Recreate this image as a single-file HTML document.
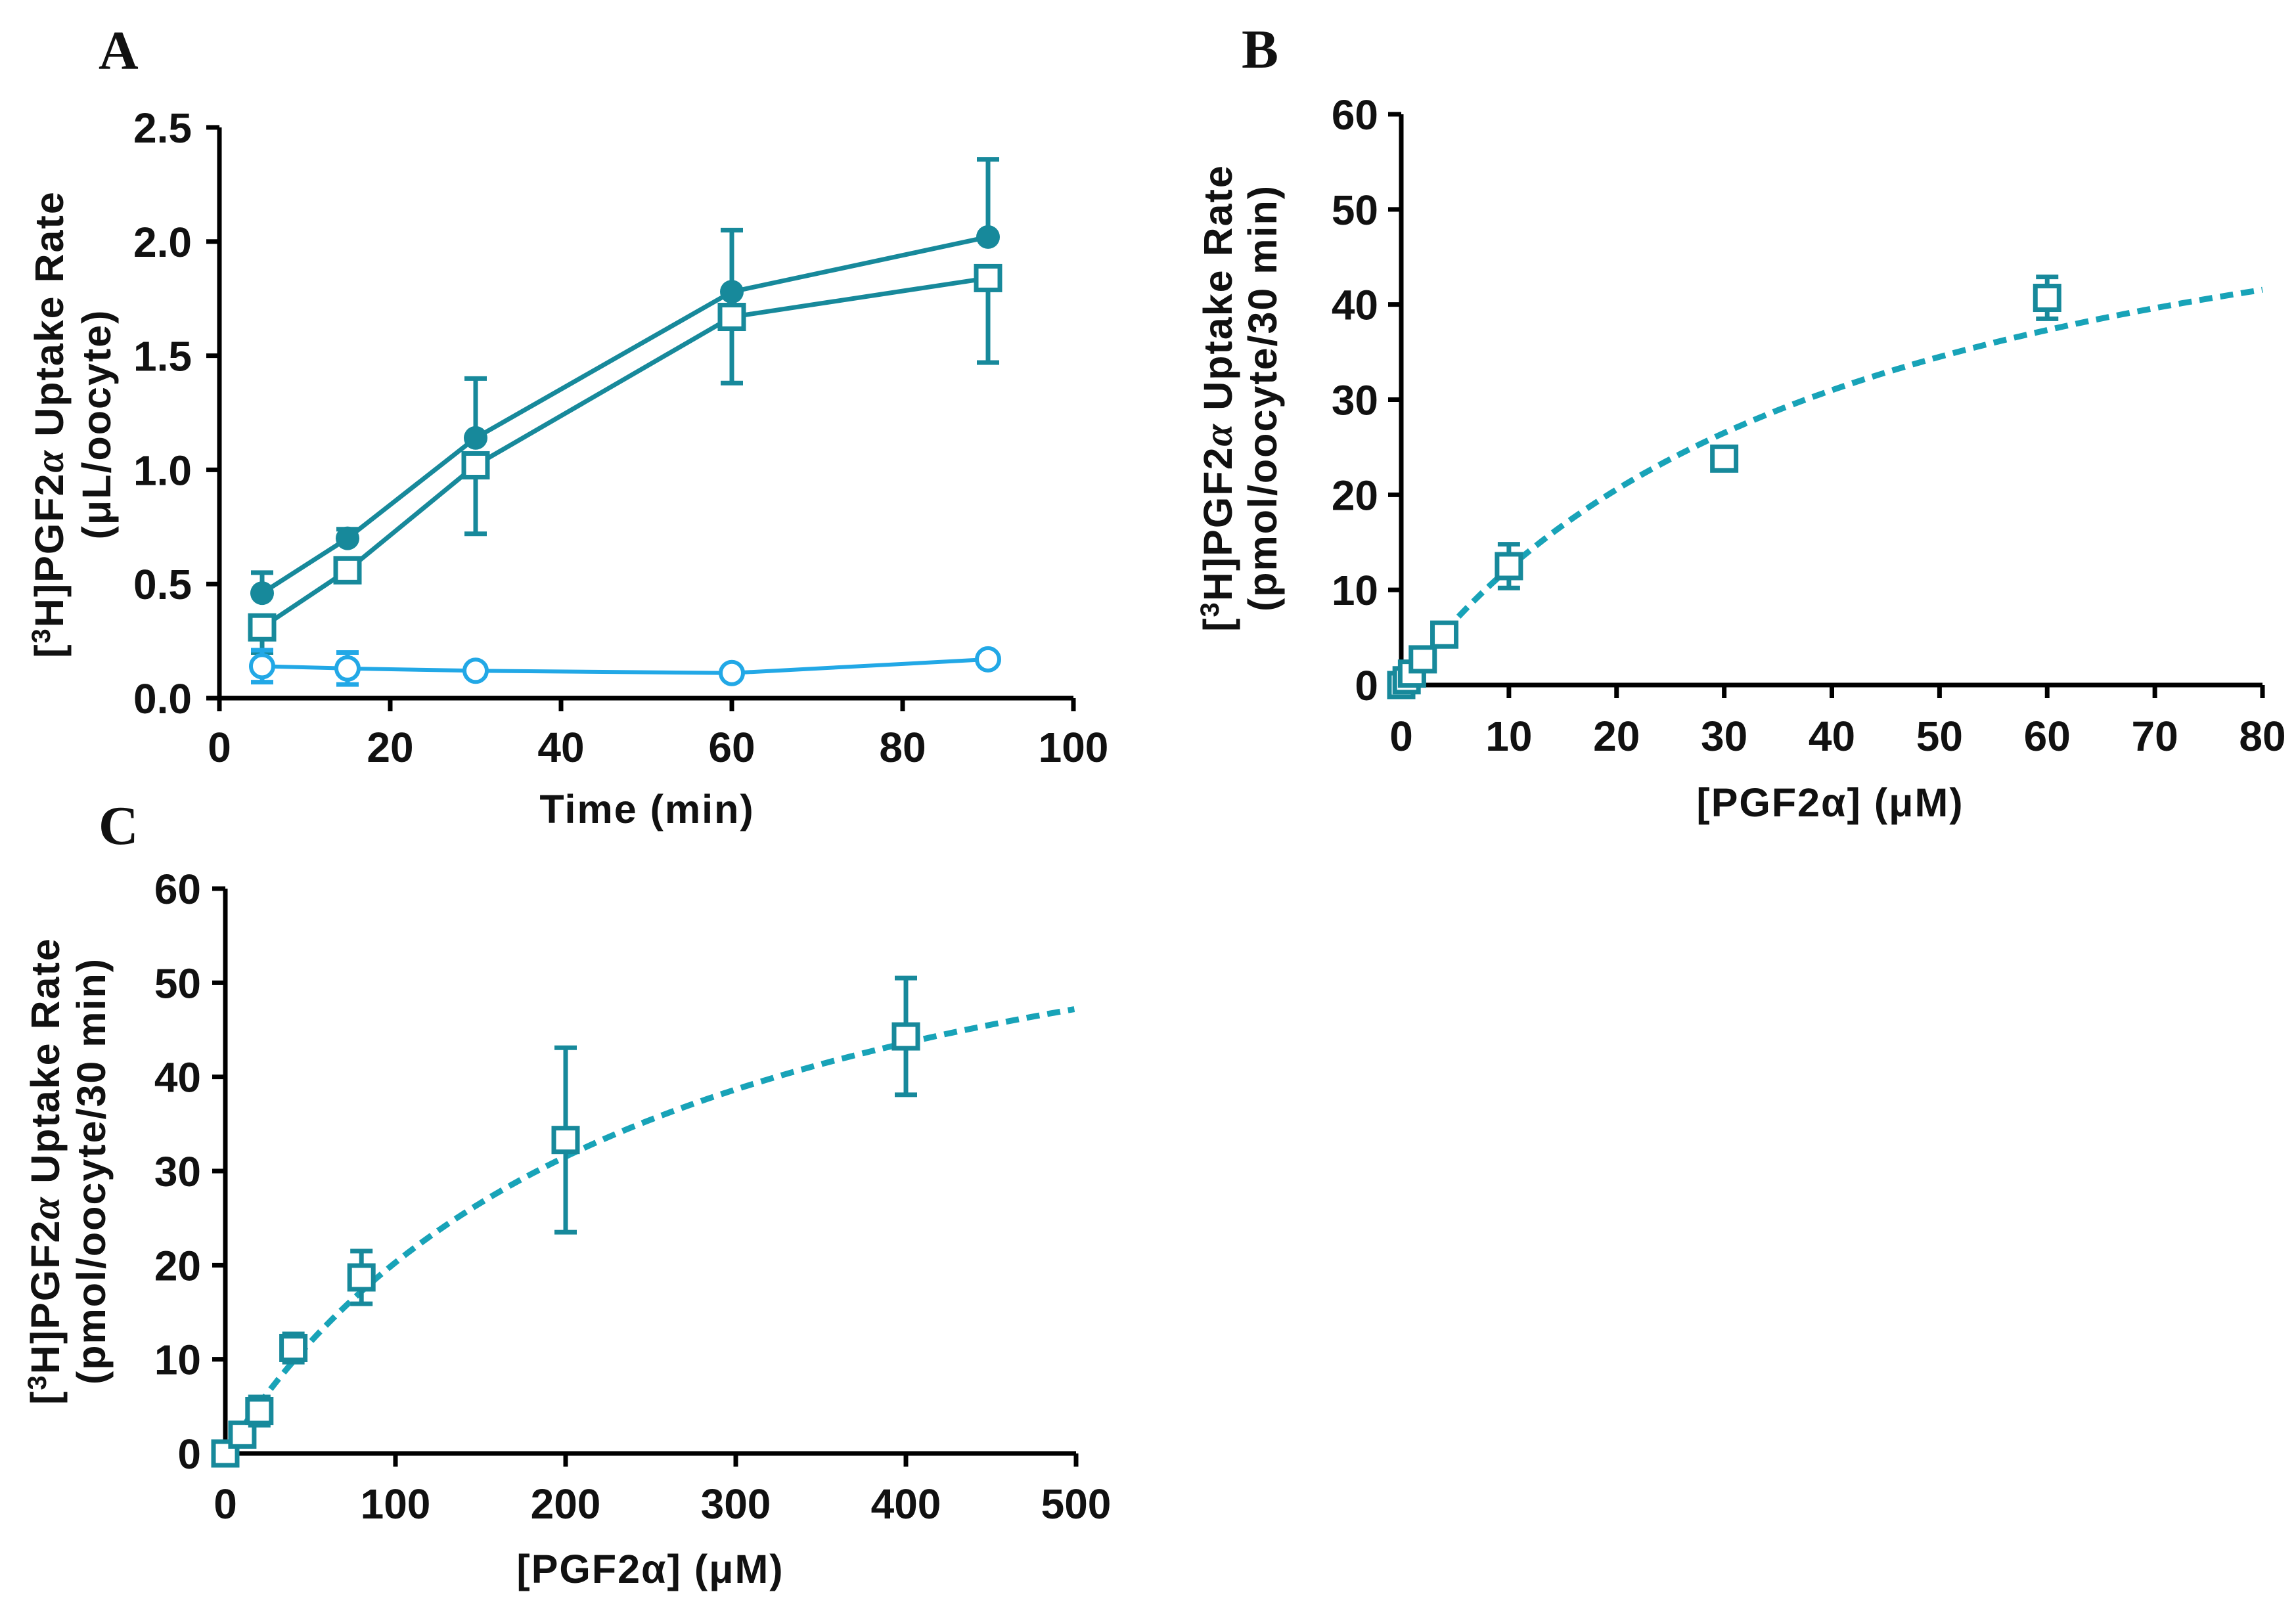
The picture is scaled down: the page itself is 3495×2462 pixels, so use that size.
<!DOCTYPE html>
<html><head><meta charset="utf-8"><style>
html,body{margin:0;padding:0;background:#fff}
svg{display:block}
.tick{font-family:"Liberation Sans Narrow","Liberation Sans",sans-serif;font-weight:bold;font-size:64px;fill:#111}
.ttl{font-family:"Liberation Sans",sans-serif;font-weight:bold;font-size:61px;letter-spacing:2px;fill:#111}
.pl{font-family:"Liberation Serif",serif;font-weight:bold;font-size:84px;fill:#111}
</style></head><body>
<svg id="fig" xmlns="http://www.w3.org/2000/svg" width="3495" height="2462" viewBox="0 0 3495 2462">
<text class="pl" x="150" y="105">A</text>
<text class="pl" x="1890" y="103">B</text>
<text class="pl" x="150" y="1285">C</text>
</svg>
<script>
// Panel A data
const aTime=[5,15,30,60,90];
const aFilled=[0.46,0.70,1.14,1.78,2.02];
const aFilledErr=[0.09,0.04,0.26,0.27,0.34];
const aSquare=[0.31,0.56,1.02,1.67,1.84];
const aSquareErr=[0.11,0.03,0.30,0.29,0.37];
const aCircle=[0.14,0.13,0.12,0.11,0.17];
const aCircleErr=[0.07,0.07,0.02,0.02,0.02];
const aXTicks=[0,20,40,60,80,100];
const aYTicks=[0,0.5,1.0,1.5,2.0,2.5];
// Panel B data
const bConc=[0,0.5,1,2,4,10,30,60];
const bRate=[0,0.5,1.2,2.7,5.3,12.5,23.8,40.7];
const bErr=[0.5,0.5,0.6,0.6,0.6,2.3,0.8,2.2];
const bVmax=63, bKm=41.3;
const bXTicks=[0,10,20,30,40,50,60,70,80];
const bYTicks=[0,10,20,30,40,50,60];
// Panel C data
const cConc=[0,10,20,40,80,200,400];
const cRate=[0,2,4.5,11.2,18.7,33.3,44.3];
const cErr=[0.5,0.8,1.5,1.5,2.8,9.8,6.2];
const cVmax=70.7, cKm=248.5;
const cXTicks=[0,100,200,300,400,500];
const cYTicks=[0,10,20,30,40,50,60];

const NS="http://www.w3.org/2000/svg";
const svg=document.getElementById('fig');
const TEAL="#17899b", LIGHT="#22a8e6", CURVE="#18a3b8";
function el(tag,attrs,parent){const e=document.createElementNS(NS,tag);for(const k in attrs)e.setAttribute(k,attrs[k]);(parent||svg).appendChild(e);return e;}
function scale(d0,d1,r0,r1){return v=>r0+(v-d0)/(d1-d0)*(r1-r0);}

function axes(g,sx,sy,xt,yt,xmin,xmax,ymin,ymax,fmtY,xLabY,yLabX){
  const x0=sx(xmin),y0=sy(ymin);
  const ax=el('line',{x1:x0,y1:sy(ymax),x2:x0,y2:y0,stroke:'#000','stroke-width':7},g);
  
  const bx=el('line',{x1:x0,y1:y0,x2:sx(xmax),y2:y0,stroke:'#000','stroke-width':7},g);
  
  xt.forEach(v=>{
    el('line',{x1:sx(v),y1:y0,x2:sx(v),y2:y0+20,stroke:'#000','stroke-width':7},g);
    const t=el('text',{x:sx(v),y:xLabY,'text-anchor':'middle',class:'tick'},g);t.textContent=v;
    
  });
  yt.forEach(v=>{
    el('line',{x1:x0-20,y1:sy(v),x2:x0,y2:sy(v),stroke:'#000','stroke-width':7},g);
    const t=el('text',{x:yLabX,y:sy(v)+23,'text-anchor':'end',class:'tick'},g);t.textContent=fmtY(v);
    
  });
}
function errbar(g,x,yl,yh,col){
  el('line',{x1:x,y1:yl,x2:x,y2:yh,stroke:col,'stroke-width':7},g);
  el('line',{x1:x-17,y1:yl,x2:x+17,y2:yl,stroke:col,'stroke-width':7},g);
  el('line',{x1:x-17,y1:yh,x2:x+17,y2:yh,stroke:col,'stroke-width':7},g);
}
function square(g,x,y){const r=el('rect',{x:x-18,y:y-18,width:36,height:36,fill:'#fff',stroke:TEAL,'stroke-width':7},g);}
function ytitle(g,cx,cy,l2,dx){
  const t=el('text',{transform:`translate(${cx},${cy}) rotate(-90)`,'text-anchor':'middle',class:'ttl'},g);
  t.innerHTML=`<tspan x="0" y="0">[<tspan dy="-20" font-size="40">3</tspan><tspan dy="20">H]PGF2</tspan><tspan font-family="Liberation Serif" font-style="italic">α</tspan> Uptake Rate</tspan><tspan x="0" dy="${dx}">${l2}</tspan>`;
  
}
function xtitle(g,cx,y,txt){const t=el('text',{x:cx,y:y,'text-anchor':'middle',class:'ttl'},g);t.textContent=txt;}

// Panel A
{
  const g=el('g',{});
  const sx=scale(0,100,334,1634), sy=scale(0,2.5,1063,194);
  axes(g,sx,sy,aXTicks,aYTicks,0,100,0,2.5,v=>v.toFixed(1),1160,292);
  ytitle(g,96,646,'(μL/oocyte)',72);
  xtitle(g,985,1253,'Time (min)');
  const pf=aTime.map((t,i)=>sx(t)+','+sy(aFilled[i])).join(' ');
  const l1=el('polyline',{points:pf,fill:'none',stroke:TEAL,'stroke-width':7},g);
  const ps=aTime.map((t,i)=>sx(t)+','+sy(aSquare[i])).join(' ');
  const l2=el('polyline',{points:ps,fill:'none',stroke:TEAL,'stroke-width':7},g);
  const pc=aTime.map((t,i)=>sx(t)+','+sy(aCircle[i])).join(' ');
  const l3=el('polyline',{points:pc,fill:'none',stroke:LIGHT,'stroke-width':6},g);
  aTime.forEach((t,i)=>{
    errbar(g,sx(t),sy(aFilled[i]),sy(aFilled[i]+aFilledErr[i]),TEAL);
    errbar(g,sx(t),sy(aSquare[i]),sy(aSquare[i]-aSquareErr[i]),TEAL);
    errbar(g,sx(t),sy(aCircle[i]-aCircleErr[i]),sy(aCircle[i]+aCircleErr[i]),LIGHT);
  });
  aTime.forEach((t,i)=>{
    const c=el('circle',{cx:sx(t),cy:sy(aFilled[i]),r:18,fill:TEAL},g);
    square(g,sx(t),sy(aSquare[i]));
    const o=el('circle',{cx:sx(t),cy:sy(aCircle[i]),r:17,fill:'#fff',stroke:LIGHT,'stroke-width':6},g);
  });
}
// Panel B
{
  const g=el('g',{});
  const sx=scale(0,80,2133,3444), sy=scale(0,60,1043,174);
  axes(g,sx,sy,bXTicks,bYTicks,0,80,0,60,v=>v,1143,2098);
  ytitle(g,1875,606,'(pmol/oocyte/30 min)',68);
  xtitle(g,2786,1243,'[PGF2α] (μM)');
  let d='';for(let x=4;x<=80;x+=0.5){const y=bVmax*x/(bKm+x);d+=(d?'L':'M')+sx(x)+' '+sy(y);}
  const c=el('path',{d:d,fill:'none',stroke:CURVE,'stroke-width':9,'stroke-dasharray':'20 12'},g);
  bConc.forEach((x,i)=>{errbar(g,sx(x),sy(bRate[i]-bErr[i]),sy(bRate[i]+bErr[i]),TEAL);square(g,sx(x),sy(bRate[i]));});
}
// Panel C
{
  const g=el('g',{});
  const sx=scale(0,500,343,1638), sy=scale(0,60,2213,1353);
  axes(g,sx,sy,cXTicks,cYTicks,0,500,0,60,v=>v,2312,306);
  ytitle(g,90,1783,'(pmol/oocyte/30 min)',70);
  xtitle(g,990,2410,'[PGF2α] (μM)');
  let d='';for(let x=5;x<=500;x+=2){const y=cVmax*x/(cKm+x);d+=(d?'L':'M')+sx(x)+' '+sy(y);}
  const c=el('path',{d:d,fill:'none',stroke:CURVE,'stroke-width':9,'stroke-dasharray':'20 12'},g);
  cConc.forEach((x,i)=>{errbar(g,sx(x),sy(cRate[i]-cErr[i]),sy(cRate[i]+cErr[i]),TEAL);square(g,sx(x),sy(cRate[i]));});
}
</script>
</body></html>
